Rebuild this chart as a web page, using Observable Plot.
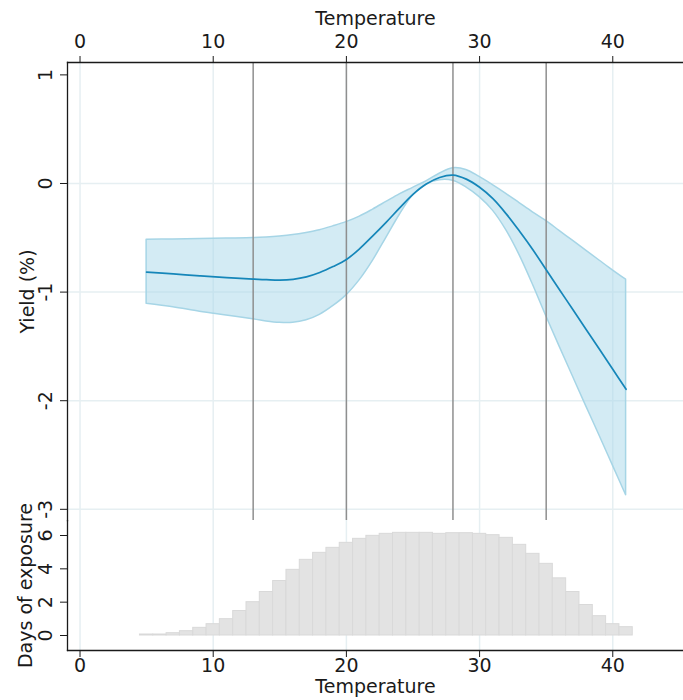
<!DOCTYPE html>
<html><head><meta charset="utf-8">
<script src="https://cdn.jsdelivr.net/npm/d3@7"></script>
<script src="https://cdn.jsdelivr.net/npm/@observablehq/plot@0.6"></script>
<style>
body{margin:0;background:#fff;}
#wrap{position:relative;width:683px;height:700px;}
#wrap svg{position:absolute;left:0;top:0;}
</style></head><body><div id="wrap"></div>
<script>
// Response curve (temperature, central estimate, lower and upper bounds)
const temps    = [5, 7, 9, 11, 13, 14, 15, 16, 17, 18, 19, 20, 21, 22, 23, 24, 25, 26, 27, 28, 29, 30, 31, 32, 33, 34, 35, 36, 37, 38, 39, 40, 41];
const yieldMid = [-0.816,-0.833,-0.85,-0.866,-0.88,-0.886,-0.89,-0.882,-0.86,-0.82,-0.765,-0.70,-0.60,-0.48,-0.355,-0.225,-0.10,-0.005,0.055,0.077,0.04,-0.035,-0.14,-0.28,-0.44,-0.61,-0.795,-0.978,-1.161,-1.344,-1.527,-1.711,-1.895];
const yieldLo  = [-1.107,-1.14,-1.18,-1.215,-1.25,-1.27,-1.283,-1.283,-1.26,-1.21,-1.13,-1.03,-0.89,-0.71,-0.50,-0.29,-0.11,-0.01,0.03,0.025,-0.035,-0.126,-0.25,-0.43,-0.66,-0.93,-1.22,-1.50,-1.775,-2.05,-2.32,-2.595,-2.87];
const yieldHi  = [-0.518,-0.515,-0.511,-0.507,-0.503,-0.497,-0.488,-0.475,-0.455,-0.43,-0.395,-0.356,-0.305,-0.24,-0.17,-0.10,-0.04,0.02,0.09,0.14,0.125,0.06,-0.015,-0.095,-0.18,-0.265,-0.345,-0.436,-0.527,-0.618,-0.709,-0.80,-0.886];

// Histogram of exposure (bin centre temperature, days)
const binTemps = [5,6,7,8,9,10,11,12,13,14,15,16,17,18,19,20,21,22,23,24,25,26,27,28,29,30,31,32,33,34,35,36,37,38,39,40,41];
const days     = [0.06,0.06,0.14,0.26,0.46,0.68,0.98,1.47,2.0,2.61,3.27,3.94,4.54,4.96,5.26,5.56,5.80,5.98,6.10,6.16,6.16,6.16,6.10,6.14,6.14,6.10,6.02,5.86,5.44,4.90,4.30,3.43,2.61,1.83,1.16,0.68,0.50];

const refLines  = [13, 20, 28, 35];
const xTicks    = [0, 10, 20, 30, 40];
const yTicks    = [-3, -2, -1, 0, 1];
const yGrid     = [-3, -2, -1, 0];
const dayTicks  = [0, 2, 4, 6];

const curveData = temps.map((t, i) => ({t, mid: yieldMid[i], lo: yieldLo[i], hi: yieldHi[i]}));
const histData = binTemps.map((t, i) => ({t, d: days[i]}));

const FONT = "DejaVu Sans";
const FS = 19;
const gridColor = "#e6eff2";
const axisColor = "#1a1a1a";
const xDomain = [-0.94, 45.31];

const common = {
  width: 683, height: 700,
  marginLeft: 67, marginRight: 0,
  style: {fontFamily: FONT, fontSize: FS + "px", background: "transparent", color: axisColor, overflow: "visible"}
};

const bottomPlot = Plot.plot({
  ...common,
  marginTop: 520, marginBottom: 50,
  x: {domain: xDomain},
  y: {domain: [-0.9, 6.9]},
  marks: [
    Plot.gridX(xTicks, {stroke: gridColor, strokeOpacity: 1, strokeWidth: 1.5}),
    Plot.rectY(histData, {x1: d => d.t - 0.5, x2: d => d.t + 0.5, y1: 0, y2: "d", fill: "#e3e3e3", stroke: "#d9d9d9", strokeWidth: 1}),
    Plot.frame({anchor: "left", stroke: axisColor, strokeWidth: 1.3}),
    Plot.frame({anchor: "bottom", stroke: axisColor, strokeWidth: 1.3}),
    Plot.axisX({anchor: "bottom", ticks: xTicks, tickSize: 7, tickPadding: 1, label: "Temperature", labelAnchor: "center", labelArrow: false, labelOffset: 42, fontSize: FS}),
    Plot.axisY({anchor: "left", ticks: dayTicks, tickSize: 7, tickFormat: () => "", label: null}),
    Plot.text(dayTicks, {frameAnchor: "left", y: d => d, text: d => String(d), rotate: -90, textAnchor: "middle", dx: -22, fontSize: FS}),
    Plot.text(["Days of exposure"], {frameAnchor: "left", rotate: -90, textAnchor: "middle", dx: -42, fontSize: FS})
  ]
});

const topPlot = Plot.plot({
  ...common,
  marginTop: 62, marginBottom: 180,
  x: {domain: xDomain},
  y: {domain: [-3.103, 1.114]},
  marks: [
    Plot.gridX(xTicks, {stroke: gridColor, strokeOpacity: 1, strokeWidth: 1.5}),
    Plot.gridY(yGrid, {stroke: gridColor, strokeOpacity: 1, strokeWidth: 1.5}),
    Plot.areaY(curveData, {x: "t", y1: "lo", y2: "hi", fill: "#a8d8ea", fillOpacity: 0.5, stroke: "#a6d5e6", strokeWidth: 1.5, curve: "catmull-rom"}),
    Plot.ruleX(refLines, {stroke: "#8f8f8f", strokeWidth: 1.5}),
    Plot.lineY(curveData, {x: "t", y: "mid", stroke: "#1586b9", strokeWidth: 1.7, curve: "catmull-rom"}),
    Plot.frame({anchor: "top", stroke: axisColor, strokeWidth: 1.3}),
    Plot.frame({anchor: "left", stroke: axisColor, strokeWidth: 1.3}),
    Plot.axisX({anchor: "top", ticks: xTicks, tickSize: 7, tickPadding: 8, label: "Temperature", labelAnchor: "center", labelArrow: false, labelOffset: 51, fontSize: FS}),
    Plot.axisY({anchor: "left", ticks: yTicks, tickSize: 7, tickFormat: () => "", label: null}),
    Plot.text(yTicks, {frameAnchor: "left", y: d => d, text: d => String(d), rotate: -90, textAnchor: "middle", dx: -22, fontSize: FS}),
    Plot.text(["Yield (%)"], {frameAnchor: "left", rotate: -90, textAnchor: "middle", dx: -40, fontSize: FS})
  ]
});

const wrap = document.getElementById("wrap");
wrap.appendChild(bottomPlot);
wrap.appendChild(topPlot);
</script>
</body></html>
